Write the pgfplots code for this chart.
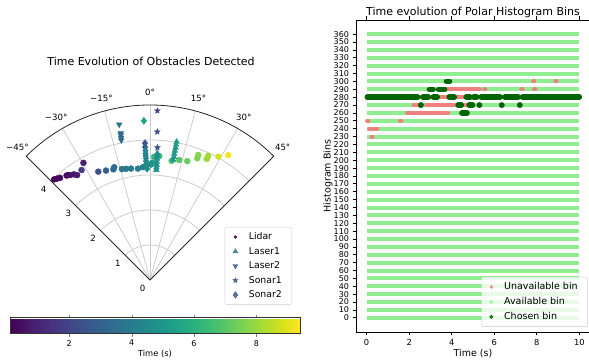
\documentclass[border=0pt]{standalone}
\usepackage{pgfplots}
\pgfplotsset{compat=1.18}
\usepackage{pgfplotstable}
\usetikzlibrary{calc}
\usepackage{fontspec}
\setmainfont{DejaVu Sans}

\definecolor{lcoral}{RGB}{240,128,128}
\definecolor{lgreen}{RGB}{144,238,144}
\definecolor{dgreen}{RGB}{0,100,0}
\definecolor{vpurple}{RGB}{68,1,84}
\definecolor{vblue}{RGB}{59,82,139}
\definecolor{vteal}{RGB}{42,120,142}
\definecolor{gridgray}{RGB}{205,205,205}

\pgfdeclareplotmark{fstar}{%
  \pgfpathmoveto{\pgfpointpolar{90}{\pgfplotmarksize}}%
  \pgfpathlineto{\pgfpointpolar{126}{0.42\pgfplotmarksize}}%
  \pgfpathlineto{\pgfpointpolar{162}{\pgfplotmarksize}}%
  \pgfpathlineto{\pgfpointpolar{198}{0.42\pgfplotmarksize}}%
  \pgfpathlineto{\pgfpointpolar{234}{\pgfplotmarksize}}%
  \pgfpathlineto{\pgfpointpolar{270}{0.42\pgfplotmarksize}}%
  \pgfpathlineto{\pgfpointpolar{306}{\pgfplotmarksize}}%
  \pgfpathlineto{\pgfpointpolar{342}{0.42\pgfplotmarksize}}%
  \pgfpathlineto{\pgfpointpolar{18}{\pgfplotmarksize}}%
  \pgfpathlineto{\pgfpointpolar{54}{0.42\pgfplotmarksize}}%
  \pgfpathclose\pgfusepathqfillstroke}

% angle (deg, clockwise from north), radius, time (s)
\pgfplotstableread{
th r t
-43.6 3.97 0.15
-42.5 3.93 0.2
-41.4 3.89 0.3
-38.6 3.82 0.45
-37.9 3.80 0.5
-37.3 3.77 0.55
-35.8 3.72 0.65
-34.8 3.65 0.75
-29.6 3.85 0.9
-31.9 3.70 1.7
-25.5 3.43 2.4
-21.9 3.37 2.8
-18.3 3.33 3.3
-17.6 3.38 3.4
-14.2 3.27 3.7
-12.2 3.25 3.8
-9.7 3.23 3.9
-6.2 3.20 4.0
-3.6 3.23 4.1
0.5 3.30 4.9
1.0 3.35 5.0
1.9 3.52 6.2
4.3 3.55 6.5
10.3 3.46 6.8
13.7 3.53 7.0
17.4 3.56 7.3
21.2 3.73 7.6
21.1 3.83 7.7
25.1 3.82 8.0
25.1 3.92 8.2
29.0 4.03 8.8
32.1 4.21 9.3
}\lidar
\pgfplotstableread{
th r t
3.3 3.63 4.6
3.3 3.55 4.6
3.3 3.47 4.7
3.3 3.38 4.7
3.3 3.30 4.7
3.3 3.22 4.8
3.3 3.15 4.8
11.0 3.49 5.0
11.0 3.58 5.0
10.9 3.67 5.1
10.9 3.76 5.1
10.9 3.85 5.1
10.9 3.94 5.2
10.9 4.02 5.2
}\laserone
\pgfplotstableread{
th r t
-11.2 4.53 3.6
-11.3 4.28 3.2
-11.4 4.22 3.2
-11.5 4.15 3.3
-11.6 4.08 3.3
}\lasertwo
\pgfplotstableread{
th r t
2.5 4.84 2.0
2.8 4.24 2.1
3.2 3.79 2.2
}\sonarone
\pgfplotstableread{
th r t
-2.2 4.55 5.5
-2.1 3.91 2.6
-2.1 3.80 2.8
-2.0 3.70 4.2
-2.0 3.62 4.3
-2.0 3.55 4.3
-1.9 3.48 4.4
-1.9 3.40 4.4
-1.8 3.33 4.5
-1.8 3.25 4.5
-1.5 3.18 4.6
}\sonartwo

\begin{document}
\begin{tikzpicture}[font=\fontsize{9.3}{11}\selectfont]
\path[use as bounding box] (0,0) rectangle (589pt,363pt);

% ---------------- polar panel (35pt per unit of range) ----------------
\begin{axis}[
  at={(0pt,48pt)}, anchor=south west,
  scale only axis, width=300pt, height=245pt,
  xmin=-4.285714, xmax=4.285714, ymin=-1, ymax=6,
  hide axis, clip=false,
  colormap/viridis, point meta min=0.1, point meta max=9.4,
  scatter/use mapped color={draw=mapped color, fill=mapped color},
  data cs=polar,
]
% grid
\draw[gridgray, line width=0.8pt] (axis cs:0,0) -- ++(60:175pt);
\draw[gridgray, line width=0.8pt] (axis cs:0,0) -- ++(75:175pt);
\draw[gridgray, line width=0.8pt] (axis cs:0,0) -- ++(90:175pt);
\draw[gridgray, line width=0.8pt] (axis cs:0,0) -- ++(105:175pt);
\draw[gridgray, line width=0.8pt] (axis cs:0,0) -- ++(120:175pt);
\draw[gridgray, line width=0.8pt] (axis cs:0,0) ++(45:35pt) arc[start angle=45, end angle=135, radius=35pt];
\draw[gridgray, line width=0.8pt] (axis cs:0,0) ++(45:70pt) arc[start angle=45, end angle=135, radius=70pt];
\draw[gridgray, line width=0.8pt] (axis cs:0,0) ++(45:105pt) arc[start angle=45, end angle=135, radius=105pt];
\draw[gridgray, line width=0.8pt] (axis cs:0,0) ++(45:140pt) arc[start angle=45, end angle=135, radius=140pt];
\draw[black!85, line width=0.8pt, line join=miter] (axis cs:0,0) -- ++(45:175pt) arc[start angle=45, end angle=135, radius=175pt] -- cycle;

\addplot[scatter, only marks, mark=*, mark size=3pt, point meta=explicit] table[x expr=90-\thisrow{th}, y=r, meta=t] {\lidar};
\addplot[scatter, only marks, mark=triangle*, mark size=3.3pt, point meta=explicit] table[x expr=90-\thisrow{th}, y=r, meta=t] {\laserone};
\addplot[scatter, only marks, mark=triangle*, mark size=3.3pt, mark options={rotate=180}, point meta=explicit] table[x expr=90-\thisrow{th}, y=r, meta=t] {\lasertwo};
\addplot[scatter, only marks, mark=fstar, mark size=3pt, point meta=explicit] table[x expr=90-\thisrow{th}, y=r, meta=t] {\sonarone};
\addplot[scatter, only marks, mark=diamond*, mark size=3.6pt, point meta=explicit] table[x expr=90-\thisrow{th}, y=r, meta=t] {\sonartwo};

% angle labels
\node[font=\fontsize{8.6}{10}\selectfont] at ($(axis cs:0,0)+(45:187.6pt)$) {45°};
\node[font=\fontsize{8.6}{10}\selectfont] at ($(axis cs:0,0)+(60:187.6pt)$) {30°};
\node[font=\fontsize{8.6}{10}\selectfont] at ($(axis cs:0,0)+(75:187.6pt)$) {15°};
\node[font=\fontsize{8.6}{10}\selectfont] at ($(axis cs:0,0)+(90:187.6pt)$) {0°};
\node[font=\fontsize{8.6}{10}\selectfont] at ($(axis cs:0,0)+(105:187.6pt)$) {−15°};
\node[font=\fontsize{8.6}{10}\selectfont] at ($(axis cs:0,0)+(120:187.6pt)$) {−30°};
\node[font=\fontsize{8.6}{10}\selectfont] at ($(axis cs:0,0)+(135:187.6pt)$) {−45°};
% radial labels
\node[font=\fontsize{8.6}{10}\selectfont] at ($(axis cs:0,0)+(-7.5pt,-8pt)$) {0};
\node[font=\fontsize{8.6}{10}\selectfont] at ($(axis cs:0,0)+(135:35pt)+(-7.5pt,-8pt)$) {1};
\node[font=\fontsize{8.6}{10}\selectfont] at ($(axis cs:0,0)+(135:70pt)+(-7.5pt,-8pt)$) {2};
\node[font=\fontsize{8.6}{10}\selectfont] at ($(axis cs:0,0)+(135:105pt)+(-7.5pt,-8pt)$) {3};
\node[font=\fontsize{8.6}{10}\selectfont] at ($(axis cs:0,0)+(135:140pt)+(-7.5pt,-8pt)$) {4};
\end{axis}

\node[font=\fontsize{11}{13}\selectfont] at (151pt,302pt) {Time Evolution of Obstacles Detected};

% ---------------- overlay: legend + colorbar ----------------
\begin{axis}[
  at={(0pt,0pt)}, anchor=south west, scale only axis,
  width=589pt, height=363pt, xmin=0, xmax=589, ymin=0, ymax=363,
  hide axis,
  colormap/viridis, point meta min=0.1, point meta max=9.4,
  colorbar horizontal,
  colorbar style={
    at={(10pt,38pt)}, anchor=south west,
    width=290pt, height=16pt,
    xtick={2,4,6,8},
    xtick align=outside, major tick length=3pt,
    xticklabel style={font=\fontsize{8}{9}\selectfont},
    xlabel={Time (s)},
    xlabel style={font=\fontsize{8.3}{9}\selectfont, yshift=3pt},
    /pgf/number format/assume math mode=true,
    axis line style={line width=0.6pt, black!80},
  },
  legend style={at={(axis cs:292,136)}, anchor=north east,
    draw=black!20, rounded corners=2pt, fill=white, fill opacity=0.8, text opacity=1,
    font=\fontsize{9.3}{11}\selectfont, row sep=2.1pt, inner xsep=8pt, inner ysep=3.5pt,
    /tikz/every odd column/.append style={column sep=9pt}},
  legend cell align=left,
]
\addplot[draw=none, forget plot] coordinates {(-10,-10)};
\addlegendimage{only marks, mark=*, mark size=1.4pt, color=vpurple}
\addlegendentry{Lidar}
\addlegendimage{only marks, mark=triangle*, mark size=2.8pt, color=vteal}
\addlegendentry{Laser1}
\addlegendimage{only marks, mark=triangle*, mark size=2.8pt, mark options={rotate=180}, color=vblue}
\addlegendentry{Laser2}
\addlegendimage{only marks, mark=fstar, mark size=2.6pt, color=vblue}
\addlegendentry{Sonar1}
\addlegendimage{only marks, mark=diamond*, mark size=3.2pt, color=vblue}
\addlegendentry{Sonar2}
\end{axis}

% ---------------- right panel ----------------
\node[rotate=90, font=\fontsize{9.5}{11}\selectfont] at (328pt,187pt) {Histogram Bins};
\begin{axis}[
  at={(356pt,31pt)}, anchor=south west, scale only axis,
  width=234pt, height=312pt,
  xmin=-0.5, xmax=10.5, ymin=-18, ymax=378,
  xtick={0,2,4,6,8,10},
  ytick={0,10,...,360},
  tick align=outside, major tick length=3.5pt,
  tick style={line width=0.8pt, black},
  axis line style={line width=0.8pt},
  /pgf/number format/assume math mode=true,
  xticklabel style={font=\fontsize{8.3}{9}\selectfont},
  yticklabel style={font=\fontsize{8}{9}\selectfont},
  xlabel={Time (s)},
  xlabel style={font=\fontsize{9.5}{11}\selectfont, yshift=3pt},
  title={Time evolution of Polar Histogram Bins},
  title style={font=\fontsize{11}{13}\selectfont, yshift=-7pt},
  unbounded coords=jump,
  legend style={at={(axis cs:10.4,-11.5)}, anchor=south east,
    draw=black!20, rounded corners=2pt, fill=white, fill opacity=0.8, text opacity=1,
    font=\fontsize{9.5}{11}\selectfont, row sep=2.2pt, inner xsep=8pt, inner ysep=3.5pt,
    /tikz/every odd column/.append style={column sep=9pt}},
  legend cell align=left,
]
% available bins (every bin over the whole run)
\addplot[xcomb, lgreen, line width=4pt, mark=none, forget plot] coordinates {
(10,0)(10,10)(10,20)(10,30)(10,40)(10,50)(10,60)(10,70)(10,80)(10,90)
(10,100)(10,110)(10,120)(10,130)(10,140)(10,150)(10,160)(10,170)(10,180)(10,190)
(10,200)(10,210)(10,220)(10,230)(10,240)(10,250)(10,260)(10,270)(10,280)(10,290)
(10,300)(10,310)(10,320)(10,330)(10,340)(10,350)(10,360)};
% unavailable bins
\addplot[lcoral, line width=4pt, line cap=round, mark=none, forget plot] coordinates {
(7.82,300)(7.88,300) (nan,nan) (8.87,300)(8.93,300) (nan,nan)
(3.72,290)(4.5,290) (nan,nan) (4.65,290)(5.3,290) (nan,nan) (5.52,290)(5.58,290) (nan,nan)
(7.27,290)(7.33,290) (nan,nan) (7.87,290)(7.93,290) (nan,nan)
(2.47,280)(2.53,280) (nan,nan) (2.97,280)(3.03,280) (nan,nan) (3.4,280)(3.8,280) (nan,nan)
(4.2,280)(4.6,280) (nan,nan) (4.92,280)(4.98,280) (nan,nan) (5.22,280)(5.28,280) (nan,nan)
(6.35,280)(6.41,280) (nan,nan) (7.19,280)(7.25,280) (nan,nan)
(2.2,270)(2.45,270) (nan,nan) (2.8,270)(3.6,270) (nan,nan) (3.7,270)(4.15,270) (nan,nan)
(4.5,270)(4.75,270) (nan,nan)
(1.9,260)(3.65,260) (nan,nan) (3.77,260)(3.83,260) (nan,nan)
(0.02,250)(0.08,250) (nan,nan) (1.57,250)(1.63,250) (nan,nan)
(0.12,240)(0.18,240) (nan,nan) (0.33,240)(0.5,240) (nan,nan)
(0.22,230)(0.28,230)};
% chosen bins (runs)
\addplot[dgreen, line width=5.5pt, line cap=round, mark=none, forget plot] coordinates {
(3.75,300)(3.9,300) (nan,nan)
(2.95,290)(3.12,290) (nan,nan) (3.38,290)(3.67,290) (nan,nan)
(0.03,280)(2.4,280) (nan,nan) (2.65,280)(2.9,280) (nan,nan) (3.14,280)(3.32,280) (nan,nan)
(3.88,280)(4.12,280) (nan,nan) (4.68,280)(4.87,280) (nan,nan) (5.03,280)(5.17,280) (nan,nan)
(5.38,280)(6.27,280) (nan,nan) (6.5,280)(7.12,280) (nan,nan) (7.33,280)(10,280) (nan,nan)
(4.3,270)(4.45,270) (nan,nan) (4.82,270)(4.98,270) (nan,nan)
(4.48,260)(4.72,260)};
% chosen bins (single steps)
\addplot[only marks, mark=*, mark size=2.7pt, dgreen, forget plot] coordinates {
(2.55,270)(5.3,270)(6.35,270)(7.2,270)};
\addlegendimage{only marks, mark=*, mark size=1.5pt, color=lcoral}
\addlegendentry{Unavailable bin}
\addlegendimage{only marks, mark=*, mark size=1.5pt, color=lgreen}
\addlegendentry{Available bin}
\addlegendimage{only marks, mark=*, mark size=1.8pt, color=dgreen}
\addlegendentry{Chosen bin}
\end{axis}
\end{tikzpicture}
\end{document}
